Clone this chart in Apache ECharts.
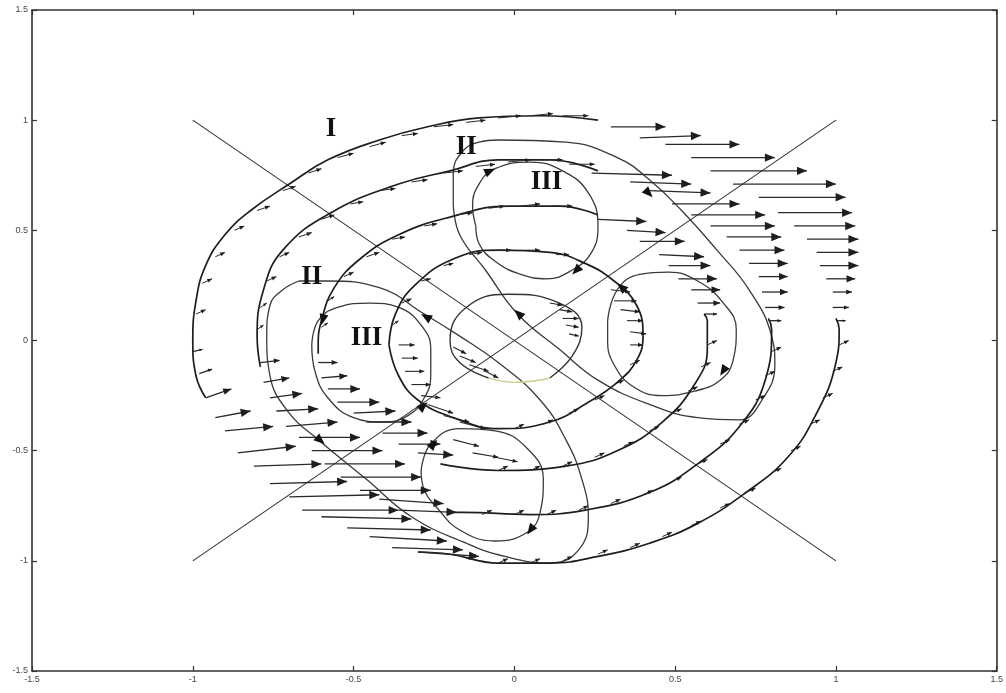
<!DOCTYPE html>
<html>
<head>
<meta charset="utf-8">
<style>
  html, body { margin: 0; padding: 0; background: #fff; }
  #chart { width: 1006px; height: 693px; }
</style>
<script src="https://cdn.jsdelivr.net/npm/echarts@6/dist/echarts.min.js"></script>
</head>
<body>
<div id="chart"></div>
<script>
// axis range and tick step
const axisMin = -1.5, axisMax = 1.5, axisStep = 0.5;

// straight lines through the origin
const diagDown = [[-1, 1], [1, -1]];
const diagUp = [[-1, -1], [1, 1]];

// region II loops (closed)
const upperII = [[-0.19, 0.62], [-0.19, 0.76], [-0.16, 0.86], [-0.11, 0.90], [-0.05, 0.91], [0.16, 0.90], [0.32, 0.83],
  [0.42, 0.73], [0.52, 0.59], [0.63, 0.41], [0.73, 0.23], [0.80, 0.02], [0.81, -0.11], [0.77, -0.27], [0.70, -0.36],
  [0.57, -0.35], [0.42, -0.29], [0.26, -0.18], [0.14, -0.04], [0.01, 0.12], [-0.09, 0.32], [-0.17, 0.48]];
const lowerII = [[-0.67, 0.27], [-0.58, 0.27], [-0.42, 0.24], [-0.28, 0.12], [-0.17, 0.02], [-0.05, -0.10], [0.08, -0.27],
  [0.16, -0.45], [0.21, -0.63], [0.23, -0.80], [0.20, -0.95], [0.11, -1.01], [-0.03, -0.98], [-0.15, -0.92], [-0.32, -0.80],
  [-0.46, -0.63], [-0.61, -0.45], [-0.70, -0.33], [-0.76, -0.16], [-0.77, 0.02], [-0.76, 0.16], [-0.72, 0.23]];

// region III loops (closed)
const upperIII = [[-0.12, 0.52], [-0.13, 0.61], [-0.11, 0.71], [-0.06, 0.78], [0.05, 0.81], [0.15, 0.77], [0.23, 0.67],
  [0.26, 0.52], [0.24, 0.40], [0.18, 0.32], [0.10, 0.28], [0.02, 0.30], [-0.06, 0.36], [-0.11, 0.44]];
const rightIII = [[0.29, 0.09], [0.32, 0.23], [0.39, 0.30], [0.48, 0.31], [0.57, 0.27], [0.65, 0.17], [0.69, 0.05],
  [0.68, -0.09], [0.64, -0.18], [0.56, -0.23], [0.46, -0.25], [0.37, -0.21], [0.31, -0.11], [0.29, 0.00]];
const leftIII = [[-0.63, -0.02], [-0.61, 0.09], [-0.55, 0.15], [-0.45, 0.17], [-0.36, 0.15], [-0.29, 0.07], [-0.26, -0.04],
  [-0.26, -0.16], [-0.28, -0.26], [-0.33, -0.34], [-0.41, -0.37], [-0.50, -0.35], [-0.58, -0.26], [-0.62, -0.14]];
const bottomIII = [[-0.29, -0.59], [-0.26, -0.47], [-0.17, -0.40], [-0.06, -0.41], [0.04, -0.49], [0.09, -0.63],
  [0.08, -0.78], [0.04, -0.87], [-0.06, -0.91], [-0.17, -0.86], [-0.24, -0.76], [-0.28, -0.68]];

// inner loop around the origin (dark part and pale lower part)
const coreLoop = [[0.11, -0.17], [0.18, -0.07], [0.21, 0.06], [0.14, 0.17], [-0.02, 0.21], [-0.15, 0.15], [-0.20, 0.00],
  [-0.17, -0.10], [-0.08, -0.17]];
const coreLoopLow = [[-0.08, -0.17], [0.00, -0.19], [0.11, -0.17]];

// region I trajectories (the parts drawn as lines)
const q1Upper = [[-0.96, -0.26], [-0.99, -0.16], [-1.00, 0.00], [-0.99, 0.18], [-0.96, 0.34], [-0.90, 0.48], [-0.82, 0.59],
  [-0.70, 0.71], [-0.58, 0.82], [-0.42, 0.91], [-0.27, 0.97], [-0.11, 1.01], [0.08, 1.02], [0.26, 1.00]];
const q1Lower = [[-0.30, -0.96], [-0.20, -0.97], [-0.05, -1.01], [0.11, -1.01], [0.26, -0.98], [0.42, -0.92], [0.57, -0.83],
  [0.72, -0.69], [0.85, -0.53], [0.94, -0.33], [1.00, -0.10], [1.01, 0.05], [1.00, 0.10]];
const q2Upper = [[-0.79, -0.12], [-0.80, 0.02], [-0.78, 0.23], [-0.72, 0.41], [-0.57, 0.58], [-0.36, 0.71], [-0.20, 0.77],
  [-0.05, 0.82], [0.11, 0.82], [0.26, 0.77]];
const q2Lower = [[-0.20, -0.78], [-0.16, -0.78], [0.05, -0.79], [0.22, -0.77], [0.42, -0.69], [0.57, -0.56], [0.70, -0.39],
  [0.78, -0.18], [0.80, 0.05], [0.79, 0.10]];
const q3Upper = [[-0.61, -0.06], [-0.61, -0.02], [-0.60, 0.09], [-0.56, 0.24], [-0.48, 0.37], [-0.36, 0.48], [-0.20, 0.56],
  [-0.02, 0.61], [0.14, 0.61], [0.26, 0.57]];
const q3Lower = [[-0.23, -0.56], [-0.05, -0.59], [0.16, -0.57], [0.32, -0.50], [0.46, -0.37], [0.56, -0.20], [0.60, -0.04],
  [0.60, 0.09], [0.59, 0.12]];
const q4Loop = [[-0.39, -0.02], [-0.37, 0.12], [-0.31, 0.25], [-0.19, 0.37], [-0.05, 0.41], [0.11, 0.40], [0.22, 0.35],
  [0.31, 0.27], [0.38, 0.16], [0.40, 0.02], [0.38, -0.09], [0.32, -0.19], [0.23, -0.28], [0.11, -0.37], [-0.05, -0.40],
  [-0.19, -0.35], [-0.30, -0.27], [-0.36, -0.16]];

// velocity arrows, [x0, y0, x1, y1]
const fieldUpperRight = [
  [0.30, 0.97, 0.47, 0.97], [0.39, 0.92, 0.58, 0.93], [0.47, 0.89, 0.70, 0.89], [0.55, 0.83, 0.81, 0.83],
  [0.61, 0.77, 0.91, 0.77], [0.68, 0.71, 1.00, 0.71], [0.76, 0.65, 1.03, 0.65], [0.82, 0.58, 1.05, 0.58],
  [0.87, 0.52, 1.06, 0.52], [0.91, 0.46, 1.07, 0.46], [0.94, 0.40, 1.07, 0.40], [0.95, 0.34, 1.07, 0.34],
  [0.97, 0.28, 1.06, 0.28], [0.99, 0.22, 1.05, 0.22], [0.99, 0.15, 1.04, 0.15], [1.00, 0.09, 1.03, 0.09],
  [0.24, 0.76, 0.49, 0.75], [0.36, 0.72, 0.55, 0.71], [0.42, 0.68, 0.61, 0.67], [0.49, 0.62, 0.70, 0.62],
  [0.55, 0.57, 0.78, 0.57], [0.61, 0.52, 0.81, 0.52], [0.66, 0.47, 0.83, 0.47], [0.70, 0.41, 0.84, 0.41],
  [0.73, 0.35, 0.85, 0.35], [0.76, 0.29, 0.85, 0.29], [0.77, 0.22, 0.85, 0.22], [0.78, 0.15, 0.84, 0.15],
  [0.79, 0.09, 0.83, 0.09],
  [0.26, 0.55, 0.41, 0.54], [0.35, 0.50, 0.47, 0.49], [0.39, 0.45, 0.53, 0.45], [0.45, 0.39, 0.59, 0.38],
  [0.48, 0.34, 0.61, 0.34], [0.51, 0.28, 0.63, 0.28], [0.55, 0.23, 0.64, 0.23], [0.57, 0.17, 0.64, 0.17],
  [0.59, 0.12, 0.63, 0.12]
];
const fieldLowerLeft = [
  [-1.00, -0.05, -0.97, -0.04], [-0.98, -0.15, -0.94, -0.13], [-0.96, -0.26, -0.88, -0.22], [-0.93, -0.35, -0.82, -0.32],
  [-0.90, -0.41, -0.75, -0.39], [-0.86, -0.51, -0.68, -0.48], [-0.81, -0.57, -0.60, -0.56], [-0.76, -0.65, -0.52, -0.64],
  [-0.70, -0.71, -0.42, -0.70], [-0.66, -0.77, -0.36, -0.77], [-0.60, -0.80, -0.32, -0.81], [-0.52, -0.85, -0.26, -0.86],
  [-0.45, -0.89, -0.21, -0.91], [-0.38, -0.94, -0.16, -0.95], [-0.30, -0.96, -0.11, -0.98],
  [-0.79, -0.10, -0.73, -0.09], [-0.78, -0.19, -0.70, -0.17], [-0.76, -0.26, -0.66, -0.24], [-0.74, -0.32, -0.61, -0.31],
  [-0.71, -0.39, -0.55, -0.37], [-0.67, -0.44, -0.48, -0.44], [-0.63, -0.50, -0.41, -0.50], [-0.59, -0.56, -0.34, -0.56],
  [-0.54, -0.62, -0.29, -0.62], [-0.48, -0.68, -0.26, -0.68], [-0.42, -0.72, -0.22, -0.74], [-0.36, -0.77, -0.18, -0.78],
  [-0.61, -0.10, -0.55, -0.10], [-0.60, -0.17, -0.52, -0.16], [-0.58, -0.22, -0.48, -0.22], [-0.55, -0.28, -0.42, -0.28],
  [-0.50, -0.33, -0.37, -0.32], [-0.46, -0.37, -0.32, -0.37], [-0.41, -0.42, -0.27, -0.42], [-0.36, -0.47, -0.23, -0.47],
  [-0.30, -0.51, -0.19, -0.52]
];
const hatchInner = [
  [0.30, 0.23, 0.36, 0.22], [0.31, 0.18, 0.38, 0.18], [0.33, 0.14, 0.39, 0.13], [0.35, 0.09, 0.40, 0.09],
  [0.36, 0.04, 0.41, 0.03], [0.36, -0.02, 0.40, -0.02],
  [0.11, 0.17, 0.15, 0.16], [0.14, 0.14, 0.18, 0.13], [0.15, 0.10, 0.20, 0.10], [0.16, 0.07, 0.20, 0.06],
  [0.17, 0.03, 0.20, 0.02],
  [-0.19, -0.03, -0.15, -0.06], [-0.17, -0.07, -0.12, -0.10], [-0.14, -0.11, -0.08, -0.14], [-0.09, -0.14, -0.05, -0.17],
  [-0.36, -0.02, -0.31, -0.02], [-0.35, -0.08, -0.30, -0.08], [-0.34, -0.14, -0.28, -0.14], [-0.32, -0.20, -0.26, -0.20],
  [-0.29, -0.25, -0.23, -0.26],
  [-0.27, -0.29, -0.19, -0.33], [-0.22, -0.34, -0.14, -0.37], [-0.17, -0.37, -0.09, -0.40], [-0.19, -0.45, -0.11, -0.48],
  [-0.13, -0.51, -0.05, -0.53], [-0.06, -0.53, 0.01, -0.55]
];
const barbs = [
  [-0.99, 0.12, -0.96, 0.14], [-0.97, 0.26, -0.94, 0.28], [-0.93, 0.38, -0.90, 0.40], [-0.87, 0.50, -0.84, 0.52],
  [-0.80, 0.59, -0.76, 0.61], [-0.72, 0.68, -0.68, 0.70], [-0.64, 0.76, -0.60, 0.78], [-0.55, 0.83, -0.50, 0.85],
  [-0.45, 0.88, -0.40, 0.90], [-0.35, 0.93, -0.30, 0.94], [-0.25, 0.97, -0.19, 0.98], [-0.15, 0.99, -0.09, 1.00],
  [-0.05, 1.01, 0.02, 1.02], [0.05, 1.02, 0.12, 1.03], [0.15, 1.02, 0.23, 1.02],
  [-0.80, 0.05, -0.78, 0.07], [-0.79, 0.15, -0.77, 0.17], [-0.77, 0.27, -0.74, 0.29], [-0.73, 0.38, -0.70, 0.40],
  [-0.67, 0.47, -0.63, 0.49], [-0.60, 0.55, -0.56, 0.57], [-0.51, 0.62, -0.47, 0.63], [-0.42, 0.68, -0.37, 0.69],
  [-0.32, 0.72, -0.27, 0.73], [-0.22, 0.76, -0.16, 0.77], [-0.12, 0.79, -0.06, 0.80], [-0.02, 0.81, 0.05, 0.82],
  [0.08, 0.82, 0.15, 0.82], [0.17, 0.80, 0.25, 0.80],
  [-0.60, 0.06, -0.58, 0.08], [-0.58, 0.18, -0.56, 0.20], [-0.53, 0.29, -0.50, 0.31], [-0.46, 0.38, -0.42, 0.40],
  [-0.38, 0.46, -0.34, 0.47], [-0.28, 0.52, -0.24, 0.53], [-0.18, 0.57, -0.13, 0.58], [-0.08, 0.60, -0.03, 0.61],
  [0.02, 0.61, 0.08, 0.62], [0.12, 0.61, 0.18, 0.61],
  [-0.38, 0.07, -0.36, 0.09], [-0.35, 0.17, -0.32, 0.19], [-0.29, 0.27, -0.26, 0.28], [-0.22, 0.34, -0.19, 0.35],
  [-0.14, 0.39, -0.10, 0.40], [-0.05, 0.41, -0.01, 0.41], [0.04, 0.41, 0.08, 0.41], [0.13, 0.39, 0.17, 0.39],
  [-0.15, -0.99, -0.12, -0.97], [-0.05, -1.01, -0.02, -0.99], [0.05, -1.01, 0.08, -0.99], [0.15, -1.00, 0.18, -0.98],
  [0.26, -0.97, 0.29, -0.95], [0.36, -0.94, 0.39, -0.92], [0.46, -0.89, 0.49, -0.87], [0.55, -0.84, 0.58, -0.82],
  [0.64, -0.76, 0.67, -0.74], [0.72, -0.69, 0.75, -0.67], [0.80, -0.60, 0.83, -0.58], [0.86, -0.50, 0.89, -0.48],
  [0.92, -0.38, 0.95, -0.36], [0.96, -0.26, 0.99, -0.24], [0.99, -0.14, 1.02, -0.12], [1.01, -0.02, 1.04, 0.00],
  [-0.10, -0.79, -0.07, -0.77], [0.00, -0.79, 0.03, -0.77], [0.10, -0.79, 0.13, -0.77], [0.20, -0.77, 0.23, -0.75],
  [0.30, -0.74, 0.33, -0.72], [0.40, -0.70, 0.43, -0.68], [0.49, -0.64, 0.52, -0.62], [0.57, -0.56, 0.60, -0.54],
  [0.64, -0.47, 0.67, -0.45], [0.70, -0.38, 0.73, -0.36], [0.75, -0.27, 0.78, -0.25], [0.78, -0.16, 0.81, -0.14],
  [0.80, -0.05, 0.83, -0.03],
  [-0.05, -0.59, -0.02, -0.57], [0.05, -0.59, 0.08, -0.57], [0.15, -0.57, 0.18, -0.55], [0.25, -0.53, 0.28, -0.51],
  [0.34, -0.48, 0.37, -0.46], [0.42, -0.41, 0.45, -0.39], [0.49, -0.33, 0.52, -0.31], [0.54, -0.23, 0.57, -0.21],
  [0.58, -0.12, 0.61, -0.10], [0.60, -0.02, 0.63, 0.00],
  [0.00, -0.40, 0.03, -0.38], [0.09, -0.38, 0.12, -0.36], [0.17, -0.33, 0.20, -0.31], [0.25, -0.27, 0.28, -0.25],
  [0.31, -0.20, 0.34, -0.18], [0.36, -0.11, 0.39, -0.09]
];

// filled arrowheads on the trajectories, [fromX, fromY, tipX, tipY]
const curveHeads = [
  [-0.09, 0.76, -0.06, 0.78], [0.22, 0.36, 0.18, 0.30], [0.39, 0.71, 0.43, 0.65], [0.05, 0.07, 0.00, 0.14],
  [-0.23, 0.07, -0.29, 0.12], [0.35, 0.22, 0.32, 0.26], [0.67, -0.09, 0.64, -0.16], [-0.59, 0.13, -0.60, 0.07],
  [0.07, -0.82, 0.04, -0.88], [-0.63, -0.42, -0.59, -0.47], [-0.30, -0.32, -0.27, -0.28], [-0.27, -0.50, -0.24, -0.45]
];

// region labels
const regionLabels = [[-0.57, 0.96, 'I'], [-0.15, 0.88, 'II'], [0.10, 0.72, 'III'], [-0.63, 0.29, 'II'], [-0.46, 0.01, 'III']];

const ink = '#1e1e1e';

function curve(data, color, width, closed) {
  return {
    type: 'line', data: closed ? data.concat([data[0]]) : data, smooth: 0.45,
    showSymbol: false, symbol: 'none', silent: true, z: 2,
    lineStyle: { color: color, width: width }
  };
}

function quiver(data, lineWidth, headScale, headMax) {
  return {
    type: 'custom', data: data, silent: true, z: 3,
    encode: { x: [0, 2], y: [1, 3] },
    renderItem: function (params, api) {
      const a = api.coord([api.value(0), api.value(1)]);
      const b = api.coord([api.value(2), api.value(3)]);
      const dx = b[0] - a[0], dy = b[1] - a[1];
      const len = Math.hypot(dx, dy) || 1;
      const ux = dx / len, uy = dy / len;
      const h = Math.max(3, Math.min(headMax, len * headScale));
      const w = h * 0.42;
      const bx = b[0] - ux * h, by = b[1] - uy * h;
      return {
        type: 'group',
        children: [
          { type: 'line', shape: { x1: a[0], y1: a[1], x2: b[0], y2: b[1] }, style: { stroke: '#2a2a2a', lineWidth: lineWidth } },
          { type: 'polygon', shape: { points: [[b[0], b[1]], [bx - uy * w, by + ux * w], [bx + uy * w, by - ux * w]] }, style: { fill: ink } }
        ]
      };
    }
  };
}

const headSeries = {
  type: 'custom', data: curveHeads, silent: true, z: 4,
  encode: { x: [0, 2], y: [1, 3] },
  renderItem: function (params, api) {
    const a = api.coord([api.value(0), api.value(1)]);
    const b = api.coord([api.value(2), api.value(3)]);
    const dx = b[0] - a[0], dy = b[1] - a[1];
    const len = Math.hypot(dx, dy) || 1;
    const ux = dx / len, uy = dy / len;
    const h = 11, w = 4.5;
    const bx = b[0] - ux * h, by = b[1] - uy * h;
    return {
      type: 'polygon',
      shape: { points: [[b[0], b[1]], [bx - uy * w, by + ux * w], [bx + uy * w, by - ux * w]] },
      style: { fill: '#111' }
    };
  }
};

const labelSeries = {
  type: 'scatter', data: regionLabels, symbolSize: 0, silent: true, z: 5,
  itemStyle: { opacity: 0 },
  label: {
    show: true, position: 'inside', formatter: function (p) { return p.value[2]; },
    fontFamily: 'Liberation Serif', fontWeight: 'bold', fontSize: 27, color: '#111',
    textBorderWidth: 0, opacity: 1
  }
};

function axisCommon(pos, showLabel) {
  return {
    type: 'value', min: axisMin, max: axisMax, interval: axisStep, position: pos,
    axisLine: { show: true, onZero: false, lineStyle: { color: '#333', width: 1.6 } },
    axisTick: { show: true, inside: true, length: 5, lineStyle: { color: '#333', width: 1.2 } },
    axisLabel: { show: showLabel, fontSize: 9, color: '#444', fontFamily: 'Liberation Sans', margin: 4 },
    splitLine: { show: false }
  };
}

const chart = echarts.init(document.getElementById('chart'));
chart.setOption({
  animation: false,
  backgroundColor: '#fff',
  grid: { left: 32, right: 7, top: 10, bottom: 22, containLabel: false },
  xAxis: [axisCommon('bottom', true), axisCommon('top', false)],
  yAxis: [axisCommon('left', true), axisCommon('right', false)],
  series: [
    curve(diagDown, '#333', 1.1, false),
    curve(diagUp, '#333', 1.1, false),
    curve(upperII, '#3a3a3a', 1.3, true),
    curve(lowerII, '#3a3a3a', 1.3, true),
    curve(upperIII, '#3a3a3a', 1.3, true),
    curve(rightIII, '#3a3a3a', 1.3, true),
    curve(leftIII, '#3a3a3a', 1.3, true),
    curve(bottomIII, '#3a3a3a', 1.3, true),
    curve(coreLoop, '#333', 1.4, false),
    curve(coreLoopLow, '#c9cf8f', 1.4, false),
    curve(q1Upper, ink, 1.7, false),
    curve(q1Lower, ink, 1.7, false),
    curve(q2Upper, ink, 1.7, false),
    curve(q2Lower, ink, 1.7, false),
    curve(q3Upper, ink, 1.7, false),
    curve(q3Lower, ink, 1.7, false),
    curve(q4Loop, ink, 1.7, true),
    quiver(fieldUpperRight, 1.3, 0.3, 10),
    quiver(fieldLowerLeft, 1.3, 0.3, 10),
    quiver(hatchInner, 1.1, 0.4, 5),
    quiver(barbs, 1.0, 0.45, 5),
    headSeries,
    labelSeries
  ]
});
</script>
</body>
</html>
